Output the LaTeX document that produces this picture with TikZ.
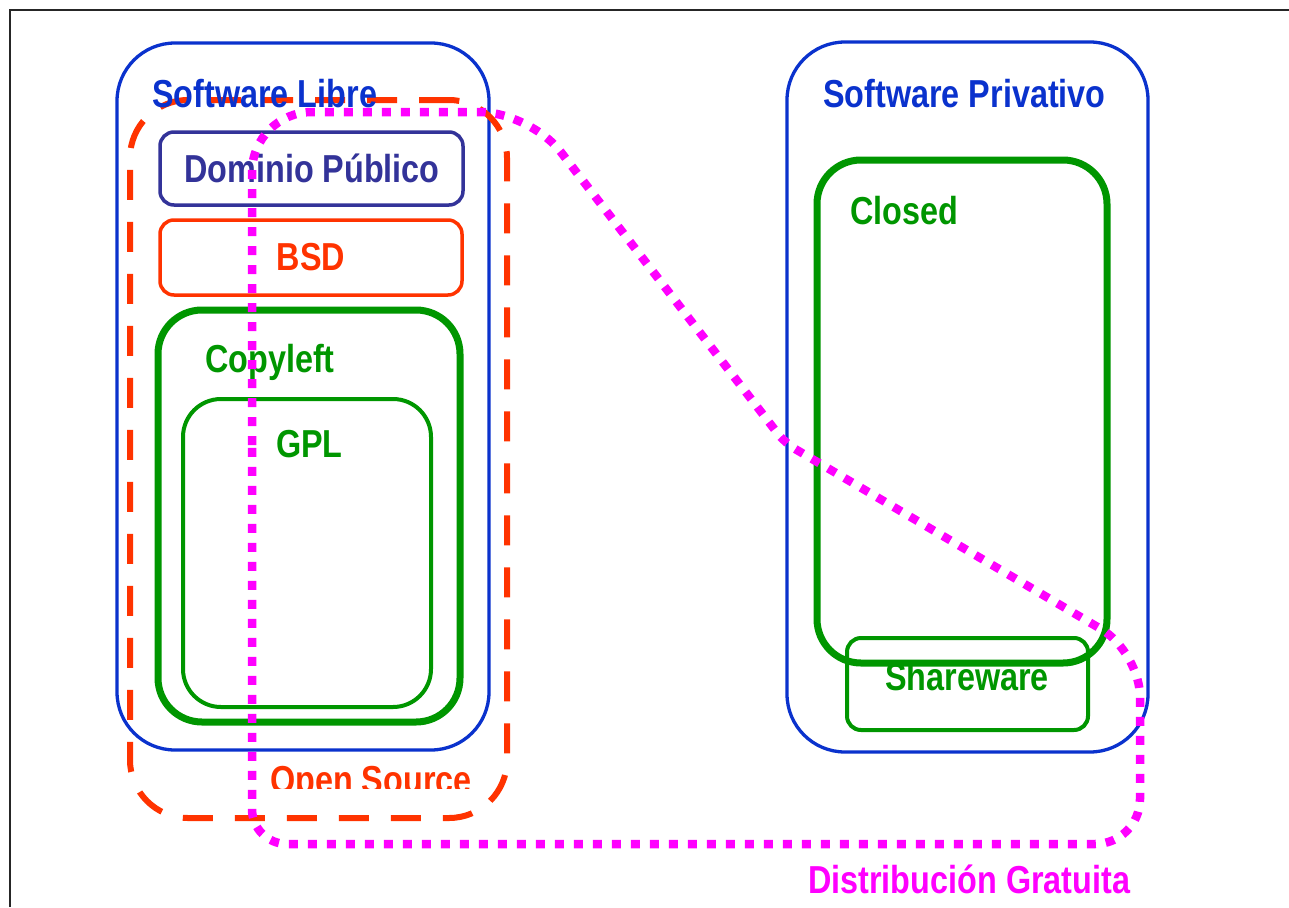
\documentclass[tikz,border=0pt]{standalone}
\usepackage{fontspec}
\setmainfont{Liberation Sans}[FakeStretch=0.83]
\definecolor{sblue}{RGB}{10,50,205}
\definecolor{indigo}{RGB}{51,51,153}
\definecolor{bsdred}{RGB}{255,51,0}
\definecolor{sgreen}{RGB}{0,150,0}
\definecolor{mag}{RGB}{255,0,255}
\tikzset{
  box/.style={draw, rectangle, inner sep=0pt},
  lab/.style={font=\bfseries\fontsize{39}{40}\selectfont, inner sep=0pt},
  outer/.style={box, draw=sblue, line width=3.3pt, rounded corners=58pt},
  small/.style={box, line width=3.5pt, rounded corners=14pt},
  thickgreen/.style={box, draw=sgreen, line width=7pt, rounded corners=44pt},
  thingreen/.style={box, draw=sgreen, line width=4pt, rounded corners=38pt},
  opensrc/.style={box, draw=bsdred, line width=6pt, rounded corners=58pt, dash pattern=on 30pt off 22pt},
  gratis/.style={draw=mag, line width=8.5pt, dash pattern=on 9pt off 10pt},
}
\begin{document}
\begin{tikzpicture}[x=1pt,y=-1pt]
\useasboundingbox (0,0) rectangle (1289,907);
\fill[white] (0,0) rectangle (1289,907);
% page frame
\draw[black!85, line width=2.5pt] (10,907) -- (10,10) -- (1289,10);

% free software side
\node[outer, minimum width=372pt, minimum height=707pt] (libre) at (303,396.5) {};
\node[small, draw=indigo, minimum width=303pt, minimum height=73pt] (dominio) at (311.5,168.5) {};
\node[small, draw=bsdred, minimum width=302pt, minimum height=75pt] (bsd) at (311,257.5) {};
\node[thickgreen, minimum width=302pt, minimum height=412pt] (copyleft) at (309,516) {};
\node[thingreen, minimum width=248pt, minimum height=308pt] (gpl) at (307,553) {};

% proprietary side
\node[outer, minimum width=361pt, minimum height=710pt] (privativo) at (967.5,397) {};
\node[small, draw=sgreen, line width=4pt, minimum width=241pt, minimum height=92pt] (shareware) at (967.5,684) {};
\node[thickgreen, minimum width=290pt, minimum height=503pt] (closed) at (962,411.5) {};

% open source boundary
\node[opensrc, minimum width=377pt, minimum height=718pt] (open) at (318.5,459) {};

% labels
\node[lab, text=sblue, anchor=base west] (tlibre) at (152,107) {Software Libre};
\node[lab, text=indigo, anchor=base] (tdominio) at (312,182) {Dominio Público};
\node[lab, text=bsdred, anchor=base] (tbsd) at (311,270) {BSD};
\node[lab, text=sgreen, anchor=base west] (tcopyleft) at (205,372) {Copyleft};
\node[lab, text=sgreen, anchor=base west] (tgpl) at (276,457) {GPL};
\node[lab, text=sblue, anchor=base west] (tpriv) at (823,107) {Software Privativo};
\node[lab, text=sgreen, anchor=base west] (tclosed) at (850,224) {Closed};
\node[lab, text=sgreen, anchor=base] (tshare) at (967,690) {Shareware};
\begin{scope}
  \clip (0,0) rectangle (1289,788);
  \node[lab, text=bsdred, anchor=base west] (topen) at (270,793) {Open Source};
\end{scope}
\node[lab, text=mag, anchor=base west] (tgratis) at (808,893) {Distribución Gratuita};

% free distribution boundary (the radius in force on the way into a corner rounds it)
\coordinate (g1) at (252,112);
\coordinate (g2) at (530,112);
\coordinate (g3) at (785,443);
\coordinate (g4) at (1140,652);
\coordinate (g5) at (1140,844);
\coordinate (g6) at (252,844);
\draw[gratis] (252,480) [rounded corners=60pt] -- (g1) [rounded corners=50pt] -- (g2)
  [rounded corners=12pt] -- (g3) [rounded corners=45pt] -- (g4) -- (g5)
  [rounded corners=35pt] -- (g6) -- cycle;
\end{tikzpicture}
\end{document}
